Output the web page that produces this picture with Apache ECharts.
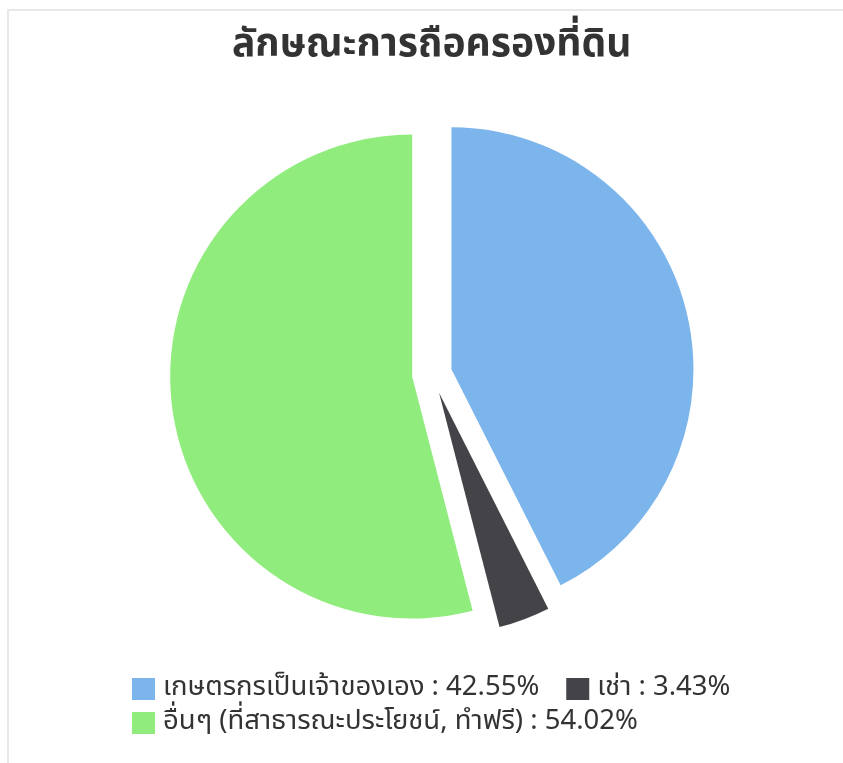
<!DOCTYPE html>
<html>
<head>
<meta charset="utf-8">
<script src="https://cdn.jsdelivr.net/npm/echarts@6/dist/echarts.min.js"></script>
<style>
  html, body { margin: 0; padding: 0; background: #ffffff; }
  #frame { position: absolute; left: 7px; top: 9px; width: 840px; height: 760px;
           border-top: 2px solid #e8e8e8; border-left: 2px solid #e8e8e8; }
  #chart { position: absolute; left: 0; top: 0; width: 843px; height: 763px; }
</style>
</head>
<body>
<div id="frame"></div>
<div id="chart"></div>
<script>
const titleText = 'ลักษณะการถือครองที่ดิน';
const categories = ['เกษตรกรเป็นเจ้าของเอง', 'เช่า', 'อื่นๆ (ที่สาธารณะประโยชน์, ทำฟรี)'];
const shares = [42.55, 3.43, 54.02];
const colors = ['#7cb5ec', '#434348', '#90ed7d'];

const fontFam = 'Tahoma, "Noto Sans Thai", "Noto Sans", "DejaVu Sans", sans-serif';
const valueByName = {};
categories.forEach((c, i) => { valueByName[c] = shares[i]; });

const legendBase = {
  orient: 'horizontal',
  left: 132,
  padding: 0,
  itemWidth: 23,
  itemHeight: 22,
  itemGap: 27,
  icon: 'rect',
  selectedMode: false,
  textStyle: { fontFamily: fontFam, fontSize: 27.5, lineHeight: 22, color: '#333333', padding: [0, 0, 0, 3] },
  formatter: name => name + ' : ' + valueByName[name].toFixed(2) + '%'
};

const chart = echarts.init(document.getElementById('chart'), null, { renderer: 'canvas' });
chart.setOption({
  animation: false,
  backgroundColor: 'transparent',
  title: {
    text: titleText,
    left: 232,
    top: 29,
    padding: 0,
    textStyle: { fontFamily: fontFam, fontSize: 39, fontWeight: 'bold', color: '#333333' }
  },
  legend: [
    Object.assign({}, legendBase, { top: 675, data: categories.slice(0, 2) }),
    Object.assign({}, legendBase, { top: 709, data: categories.slice(2) })
  ],
  series: [{
    type: 'pie',
    center: [432, 374],
    radius: 242,
    startAngle: 90,
    clockwise: true,
    selectedMode: 'multiple',
    selectedOffset: 20,
    label: { show: false },
    labelLine: { show: false },
    emphasis: { disabled: true },
    itemStyle: { borderWidth: 0 },
    data: categories.map((c, i) => ({
      name: c,
      value: shares[i],
      selected: true,
      itemStyle: { color: colors[i] }
    }))
  }]
});
</script>
</body>
</html>
